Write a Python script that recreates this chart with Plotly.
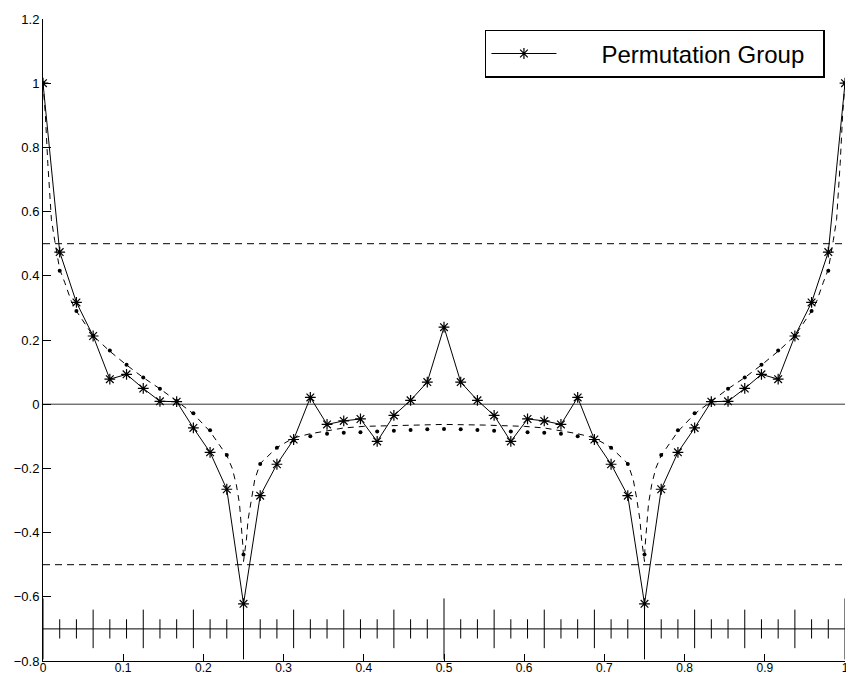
import plotly.graph_objects as go

# ---------------- data ----------------
N = 48
x_grid = [k / N for k in range(N + 1)]

perm_group = [
    1.000, 0.474, 0.317, 0.2125, 0.078, 0.093, 0.049, 0.009, 0.008, -0.074,
    -0.150, -0.265, -0.622, -0.285, -0.187, -0.110, 0.021, -0.063, -0.052, -0.046,
    -0.116, -0.035, 0.012, 0.069, 0.240, 0.069, 0.012, -0.035, -0.116, -0.046,
    -0.052, -0.063, 0.021, -0.110, -0.187, -0.285, -0.622, -0.265, -0.150, -0.074,
    0.008, 0.009, 0.049, 0.093, 0.078, 0.2125, 0.317, 0.474, 1.000,
]

dots = [
    1.000, 0.416, 0.290, 0.213, 0.167, 0.123, 0.083, 0.048, 0.010, -0.028,
    -0.081, -0.158, -0.468, -0.186, -0.136, -0.113, -0.100, -0.092, -0.089, -0.087,
    -0.085, -0.083, -0.080, -0.078, -0.077, -0.078, -0.080, -0.083, -0.085, -0.087,
    -0.089, -0.092, -0.100, -0.113, -0.136, -0.186, -0.468, -0.158, -0.081, -0.028,
    0.010, 0.048, 0.083, 0.123, 0.167, 0.213, 0.290, 0.416, 1.000,
]

curve_x = [
    0.0, 0.003, 0.006, 0.0105, 0.0146, 0.0208, 0.027, 0.0354, 0.0417, 0.0625,
    0.0833, 0.1042, 0.125, 0.1458, 0.1667, 0.1875, 0.2083, 0.218, 0.2292, 0.236,
    0.241, 0.245, 0.2475, 0.2495, 0.25, 0.2515, 0.2537, 0.2557, 0.26, 0.264,
    0.2708, 0.2917, 0.3125, 0.3333, 0.3542, 0.375, 0.4, 0.45, 0.5,
    0.55, 0.6, 0.625, 0.6458, 0.6667, 0.6875, 0.7083, 0.7292, 0.736, 0.7400,
    0.7443, 0.7463, 0.7485, 0.75, 0.7505, 0.7525, 0.755, 0.759, 0.764, 0.7708,
    0.782, 0.7917, 0.8125, 0.8333, 0.8542, 0.875, 0.8958, 0.9167, 0.9375, 0.9583,
    0.9646, 0.973, 0.9792, 0.9854, 0.9895, 0.994, 0.997, 1.0,
]
curve_y = [
    1.00, 0.90, 0.75, 0.575, 0.51, 0.42, 0.38, 0.32, 0.29, 0.213,
    0.165, 0.122, 0.083, 0.048, 0.010, -0.030, -0.085, -0.120, -0.160, -0.200,
    -0.250, -0.310, -0.380, -0.450, -0.490, -0.460, -0.420, -0.360, -0.290, -0.235,
    -0.185, -0.135, -0.105, -0.092, -0.083, -0.074, -0.069, -0.065, -0.063,
    -0.065, -0.069, -0.074, -0.083, -0.092, -0.105, -0.135, -0.185, -0.235, -0.290,
    -0.360, -0.420, -0.460, -0.490, -0.450, -0.380, -0.310, -0.250, -0.200, -0.160,
    -0.120, -0.085, -0.030, 0.010, 0.048, 0.083, 0.122, 0.165, 0.213, 0.29,
    0.32, 0.38, 0.42, 0.51, 0.575, 0.75, 0.90, 1.00,
]

# partition comb at the bottom: tick level for every k/48 point
comb_level = [3, 1, 1, 2, 1, 1, 2, 1, 1, 2, 1, 1,
              3, 1, 1, 2, 1, 1, 2, 1, 1, 2, 1, 1,
              3, 1, 1, 2, 1, 1, 2, 1, 1, 2, 1, 1,
              3, 1, 1, 2, 1, 1, 2, 1, 1, 2, 1, 1, 3]
comb_base = -0.7
ref_levels = [0.5, -0.5]

x_ticks = [0, 0.1, 0.2, 0.3, 0.4, 0.5, 0.6, 0.7, 0.8, 0.9, 1]
x_tick_labels = ["0", "0.1", "0.2", "0.3", "0.4", "0.5", "0.6", "0.7", "0.8", "0.9", "1"]
y_ticks = [-0.8, -0.6, -0.4, -0.2, 0, 0.2, 0.4, 0.6, 0.8, 1, 1.2]
y_tick_labels = ["\u22120.8", "\u22120.6", "\u22120.4", "\u22120.2", "0", "0.2", "0.4",
                 "0.6", "0.8", "1", "1.2"]

# ---------------- figure ----------------
FONT = "Liberation Sans, Arial, Helvetica, sans-serif"
half = {1: 0.03, 2: 0.06, 3: 0.095}

comb_xs, comb_ys = [0, 1, None], [comb_base, comb_base, None]
for xv, lv in zip(x_grid, comb_level):
    comb_xs += [xv, xv, None]
    comb_ys += [comb_base - half[lv], comb_base + half[lv], None]

fig = go.Figure()

fig.add_trace(go.Scatter(x=[0, 1], y=[0, 0], mode="lines",
                         line=dict(color="#333333", width=1), showlegend=False, hoverinfo="skip"))
for lv in ref_levels:
    fig.add_trace(go.Scatter(x=[0, 1], y=[lv, lv], mode="lines",
                             line=dict(color="black", width=1, dash="7px,5px"),
                             showlegend=False, hoverinfo="skip"))

fig.add_trace(go.Scatter(x=comb_xs, y=comb_ys, mode="lines",
                         line=dict(color="black", width=1), showlegend=False, hoverinfo="skip"))

fig.add_trace(go.Scatter(x=curve_x, y=curve_y, mode="lines",
                         line=dict(color="black", width=1, dash="6px,5px"),
                         showlegend=False))

fig.add_trace(go.Scatter(x=x_grid, y=dots, mode="markers",
                         marker=dict(color="black", size=4, symbol="circle"),
                         showlegend=False))

NBSP = "\u00a0"
fig.add_trace(go.Scatter(x=x_grid, y=perm_group, mode="lines+markers",
                         name=NBSP * 6 + "Permutation Group" + NBSP * 2,
                         line=dict(color="black", width=1),
                         marker=dict(symbol="asterisk-open", size=9,
                                     line=dict(color="black", width=1.2), color="black")))

fig.update_layout(
    width=846, height=679,
    margin=dict(l=43, r=1, t=19, b=18, autoexpand=False),
    paper_bgcolor="white", plot_bgcolor="white",
    font=dict(family=FONT, size=12, color="black"),
    legend=dict(x=0.975, y=0.983, xanchor="right", yanchor="top",
                bordercolor="black", borderwidth=1.5, bgcolor="white",
                font=dict(size=24, family=FONT), itemwidth=65),
)
fig.update_xaxes(range=[0, 1], tickmode="array", tickvals=x_ticks, ticktext=x_tick_labels,
                 ticks="inside", ticklen=7, ticklabeloverflow="allow", automargin=False,
                 ticklabelstandoff=-4,
                 tickcolor="black", showline=True, linecolor="black", linewidth=1,
                 showgrid=False, zeroline=False, tickfont=dict(size=12))
fig.update_yaxes(range=[-0.8, 1.2], tickmode="array", tickvals=y_ticks, ticktext=y_tick_labels,
                 ticks="inside", ticklen=8, ticklabeloverflow="allow", automargin=False,
                 tickcolor="black", showline=True, linecolor="black", linewidth=1,
                 showgrid=False, zeroline=False, tickfont=dict(size=13))

fig.write_html("out.html")
